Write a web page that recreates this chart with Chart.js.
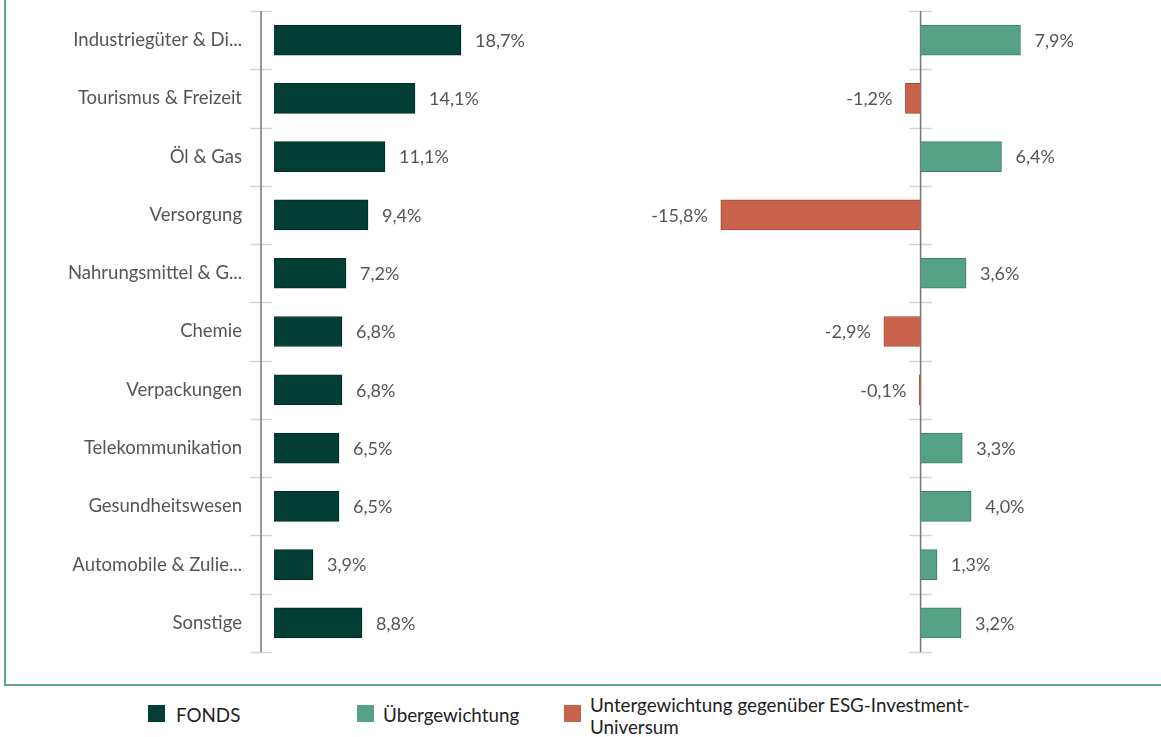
<!DOCTYPE html>
<html>
<head>
<meta charset="utf-8">
<script src="https://cdn.jsdelivr.net/npm/chart.js@4.4.1/dist/chart.umd.min.js"></script>
<style>
  html, body { margin: 0; padding: 0; background: #fff; }
  #wrap { position: relative; width: 1161px; height: 737px; overflow: hidden; font-family: Lato, sans-serif; }
  #box { position: absolute; left: 4px; top: -4px; width: 1170px; height: 690px; border: 2px solid #5fa58b; box-sizing: border-box; }
  #leftBox { position: absolute; left: 0; top: 0; width: 600px; height: 665px; }
  #rightBox { position: absolute; left: 641px; top: 0; width: 520px; height: 665px; }
  .lg { position: absolute; font-size: 18.8px; color: #222; line-height: 22px; white-space: nowrap; }
  .sw { position: absolute; width: 17px; height: 17px; }
</style>
</head>
<body>
<div id="wrap">
  <div id="box"></div>
  <div id="leftBox"><canvas id="fondsChart" width="600" height="665"></canvas></div>
  <div id="rightBox"><canvas id="activeChart" width="520" height="665"></canvas></div>

  <div class="sw" style="left:148px;top:705px;background:#023e34"></div>
  <div class="lg" style="left:176px;top:704px">FONDS</div>
  <div class="sw" style="left:357px;top:705px;background:#55a186"></div>
  <div class="lg" style="left:383px;top:704px">Übergewichtung</div>
  <div class="sw" style="left:564px;top:705px;background:#c8624a"></div>
  <div class="lg" style="left:590px;top:694px">Untergewichtung gegenüber ESG-Investment-<br>Universum</div>
</div>

<script>
  // ── Daten ──────────────────────────────────────────────
  const categories = [
    "Industriegüter & Di...",
    "Tourismus & Freizeit",
    "Öl & Gas",
    "Versorgung",
    "Nahrungsmittel & G...",
    "Chemie",
    "Verpackungen",
    "Telekommunikation",
    "Gesundheitswesen",
    "Automobile & Zulie...",
    "Sonstige"
  ];
  const fondsValues  = [18.7, 14.1, 11.1, 9.4, 7.2, 6.8, 6.8, 6.5, 6.5, 3.9, 8.8];
  const activeValues = [7.9, -1.2, 6.4, -15.8, 3.6, -2.9, -0.1, 3.3, 4.0, 1.3, 3.2];

  const C_FONDS = "#023e34", C_FONDS_B = "#012e27";
  const C_OVER = "#55a186",  C_OVER_B = "#3f7f66";
  const C_UNDER = "#c8624a", C_UNDER_B = "#a54a36";
  const TEXT = "#555";

  function fmt(v) {
    return v.toFixed(1).replace(".", ",") + "%";
  }

  // Werte-Beschriftung an den Balkenenden
  const valueLabels = {
    id: "valueLabels",
    afterDatasetsDraw(chart) {
      const ctx = chart.ctx;
      const meta = chart.getDatasetMeta(0);
      const data = chart.data.datasets[0].data;
      ctx.save();
      ctx.font = "18px Lato, sans-serif";
      ctx.fillStyle = TEXT;
      ctx.textBaseline = "middle";
      meta.data.forEach(function (bar, i) {
        const v = data[i];
        if (v >= 0) {
          ctx.textAlign = "left";
          ctx.fillText(fmt(v), bar.x + 14, bar.y + 1);
        } else {
          ctx.textAlign = "right";
          ctx.fillText(fmt(v), bar.x - 13, bar.y + 1);
        }
      });
      ctx.restore();
    }
  };

  // Achse + kurze Kategorie-Striche
  const axisTicks = {
    id: "axisTicks",
    beforeDatasetsDraw(chart, args, opts) {
      const ctx = chart.ctx;
      const y = chart.scales.y;
      const ax = opts.atZero ? chart.scales.x.getPixelForValue(0) : chart.chartArea.left;
      ctx.save();
      ctx.strokeStyle = "#d4d4d4";
      ctx.lineWidth = 1.5;
      for (let i = 0; i <= categories.length; i++) {
        const py = Math.round(y.getPixelForValue(i - 0.5)) + 0.5;
        ctx.beginPath();
        ctx.moveTo(ax - 11, py);
        ctx.lineTo(ax + 11, py);
        ctx.stroke();
      }
      ctx.strokeStyle = "#777";
      ctx.lineWidth = 1.5;
      ctx.beginPath();
      ctx.moveTo(ax, y.getPixelForValue(-0.5));
      ctx.lineTo(ax, y.getPixelForValue(categories.length - 0.5));
      ctx.stroke();
      ctx.restore();
    }
  };

  Chart.defaults.font.family = "Lato, sans-serif";
  Chart.defaults.color = TEXT;

  new Chart(document.getElementById("fondsChart"), {
    type: "bar",
    data: {
      labels: categories,
      datasets: [{
        data: fondsValues,
        backgroundColor: C_FONDS,
        borderColor: C_FONDS_B,
        borderWidth: 1,
        barThickness: 30
      }]
    },
    options: {
      indexAxis: "y",
      responsive: false,
      animation: false,
      layout: { padding: { top: 11, bottom: 13, left: 0, right: 76 } },
      plugins: { legend: { display: false }, tooltip: { enabled: false }, axisTicks: { atZero: false } },
      scales: {
        x: { display: false, min: -1.3, max: 25 },
        y: {
          offset: true,
          grid: { display: false, drawTicks: false },
          border: { display: false },
          ticks: { padding: 19, font: { size: 18.5 }, color: TEXT },
          afterFit: function (scale) {
            scale.width = 261;
            scale.paddingTop = 0;
            scale.paddingBottom = 0;
          }
        }
      }
    },
    plugins: [axisTicks, valueLabels]
  });

  new Chart(document.getElementById("activeChart"), {
    type: "bar",
    data: {
      labels: categories,
      datasets: [{
        data: activeValues,
        backgroundColor: activeValues.map(v => v >= 0 ? C_OVER : C_UNDER),
        borderColor: activeValues.map(v => v >= 0 ? C_OVER_B : C_UNDER_B),
        borderWidth: 1,
        barThickness: 30
      }]
    },
    options: {
      indexAxis: "y",
      responsive: false,
      animation: false,
      layout: { padding: { top: 11, bottom: 13, left: 52, right: 114 } },
      plugins: { legend: { display: false }, tooltip: { enabled: false }, axisTicks: { atZero: true } },
      scales: {
        x: { display: false, min: -18, max: 10 },
        y: { display: false, offset: true }
      }
    },
    plugins: [axisTicks, valueLabels]
  });
</script>
</body>
</html>
